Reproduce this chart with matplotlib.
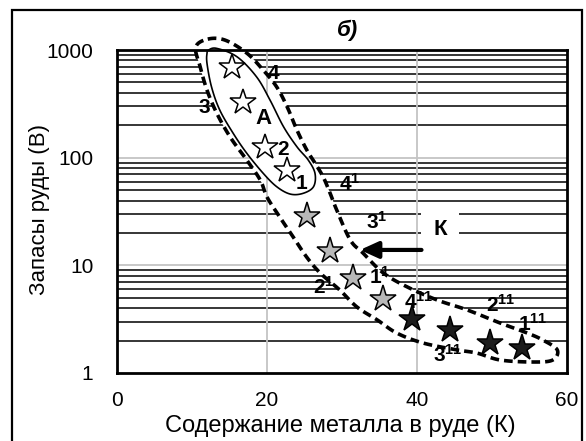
import numpy as np
import matplotlib
matplotlib.use("Agg")
import matplotlib.pyplot as plt
from matplotlib.patches import Rectangle, Polygon

plt.rcParams['font.family'] = ['Liberation Sans', 'DejaVu Sans']
plt.rcParams['mathtext.fontset'] = 'custom'
plt.rcParams['mathtext.rm'] = 'Liberation Sans'
plt.rcParams['mathtext.bf'] = 'Liberation Sans:bold'

# Deposits: metal content K (%) and ore reserves B
k_white = [15.3, 16.8, 19.7, 22.6]
b_white = [700, 330, 126, 77]
k_gray = [25.3, 28.4, 31.5, 35.5]
b_gray = [29, 13.7, 7.6, 4.9]
k_black = [39.3, 44.4, 49.7, 54.0]
b_black = [3.2, 2.5, 1.9, 1.7]

# Outline of the whole deposit field (dashed contour)
outer_k = [12.1, 14.4, 17.3, 19.5, 21.3, 22.7, 24.0, 25.3, 26.4, 27.5, 28.4, 29.3,
           31.1, 32.8, 35.5, 38.7, 42.7, 46.7, 51.1, 54.7, 56.8, 58.7, 58.1, 55.5,
           51.1, 48.0, 45.3, 40.8, 37.3, 34.7, 32.0, 29.7, 27.1, 25.3, 23.5, 21.7,
           20.0, 19.1, 17.3, 15.1, 13.3, 12.0, 11.1, 10.5]
outer_b = [1262, 1236, 936, 650, 453, 295, 180, 118, 89, 66, 47, 32.6,
           17.2, 13.0, 8.5, 6.3, 4.76, 3.85, 2.91, 2.35, 2.02, 1.64, 1.32, 1.265,
           1.32, 1.53, 1.64, 1.90, 2.35, 3.11, 4.10, 5.90, 8.48, 11.9, 18.3, 28.1,
           43.1, 62, 95, 155, 259, 424, 694, 1064]

# Outline of group A (solid contour)
inner_k = [12.2, 13.3, 16.0, 18.6, 20.4, 22.2, 24.0, 25.5, 26.4, 26.2, 24.8, 23.1,
           21.3, 19.5, 17.3, 15.5, 13.7, 12.6, 12.0, 12.0]
inner_b = [998, 1035, 865, 564, 343, 194, 126, 95, 71.5, 53.7, 46.6, 45.9,
           53.7, 71.5, 110, 168, 277, 455, 751, 930]

x_ticks = [0, 20, 40, 60]
y_ticks = [1, 10, 100, 1000]
y_ticklabels = ['1', '10', '100', '1000']


def smooth_closed(xs, ys, n=12):
    """Closed Catmull-Rom curve through the points (x, log10 y)."""
    p = np.column_stack([xs, np.log10(ys)])
    m = len(p)
    out = []
    t = np.linspace(0, 1, n, endpoint=False)[:, None]
    for i in range(m):
        p0, p1, p2, p3 = p[(i - 1) % m], p[i], p[(i + 1) % m], p[(i + 2) % m]
        seg = 0.5 * ((2 * p1) + (-p0 + p2) * t + (2 * p0 - 5 * p1 + 4 * p2 - p3) * t ** 2
                     + (-p0 + 3 * p1 - 3 * p2 + p3) * t ** 3)
        out.append(seg)
    out = np.vstack(out)
    return np.column_stack([out[:, 0], 10 ** out[:, 1]])


fig = plt.figure(figsize=(5.86, 4.41), dpi=100)
ax = fig.add_axes([117 / 586, 68 / 441, 450 / 586, 323 / 441])
ax.set_yscale('log')
ax.set_xlim(0, 60)
ax.set_ylim(1, 1000)

# black minor lines inside each decade
for dec in [1, 10, 100]:
    for m in range(2, 10):
        ax.axhline(dec * m, color='black', lw=1.1, zorder=1)

outer = smooth_closed(outer_k, outer_b)
inner = smooth_closed(inner_k, inner_b)
ax.add_patch(Polygon(outer, closed=True, fc='white', ec='none', zorder=2, clip_on=False))

# light major grid
for v in [20, 40]:
    ax.axvline(v, color='#c4c4c4', lw=1.3, zorder=3)
for v in [10, 100]:
    ax.axhline(v, color='#c4c4c4', lw=1.3, zorder=3)

ax.add_patch(Polygon(outer, closed=True, fill=False, ec='black', lw=2.6,
                     linestyle=(0, (2.4, 1.4)), zorder=4, clip_on=False))
ax.add_patch(Polygon(inner, closed=True, fc='white', ec='black', lw=1.2, zorder=4,
                     clip_on=False))

ax.plot(k_white, b_white, ls='none', marker='*', ms=19, mfc='white', mec='black',
        mew=1.1, zorder=5, clip_on=False)
ax.plot(k_gray, b_gray, ls='none', marker='*', ms=20, mfc='#b8b8b8', mec='black',
        mew=1.1, zorder=5)
ax.plot(k_black, b_black, ls='none', marker='*', ms=20, mfc='#1c1c1c', mec='black',
        mew=1.1, zorder=5)

lbl = dict(fontsize=15, fontweight='bold', ha='center', va='center', zorder=6)
ax.text(20.8, 607, '4', **lbl)
ax.text(11.6, 293, '3', **lbl)
ax.text(19.5, 232, 'А', fontsize=16, fontweight='bold', ha='center', va='center', zorder=6)
ax.text(22.2, 119, '2', **lbl)
ax.text(24.6, 57.7, '1', **lbl)
ax.text(31.0, 57.7, r'$\mathbf{4^{1}}$', **lbl)
ax.text(34.6, 25.4, r'$\mathbf{3^{1}}$', **lbl)
ax.text(27.6, 6.33, r'$\mathbf{2^{1}}$', **lbl)
ax.text(35.0, 7.84, r'$\mathbf{1^{1}}$', **lbl)
ax.text(40.2, 4.59, r'$\mathbf{4^{11}}$', **lbl)
ax.text(51.2, 4.28, r'$\mathbf{2^{11}}$', **lbl)
ax.text(55.4, 2.89, r'$\mathbf{1^{11}}$', **lbl)
ax.text(44.1, 1.47, r'$\mathbf{3^{11}}$', **lbl)
ax.text(43.1, 21.3, 'К', fontsize=16, fontweight='bold', ha='center', va='center',
        zorder=6, bbox=dict(boxstyle='square,pad=0.55', fc='white', ec='none'))
ax.annotate('', xy=(32.4, 13.9), xytext=(40.6, 13.9),
            arrowprops=dict(arrowstyle='-|>,head_length=1.1,head_width=0.5',
                            lw=3, color='black', shrinkA=0, shrinkB=0),
            zorder=6)

for s in ax.spines.values():
    s.set_linewidth(2)
    s.set_zorder(7)

ax.set_xticks(x_ticks)
ax.set_yticks(y_ticks)
ax.set_yticklabels(y_ticklabels)
ax.yaxis.set_minor_locator(matplotlib.ticker.NullLocator())
ax.tick_params(axis='both', length=0, labelsize=15)
ax.tick_params(axis='x', pad=13)
ax.tick_params(axis='y', pad=17)

ax.set_xlabel('Содержание металла в руде (К)', fontsize=17)
ax.xaxis.set_label_coords(0.496, -0.131)
ax.set_ylabel('Запасы руды (В)', fontsize=16)
ax.yaxis.set_label_coords(-0.150, 0.505)

fig.text(348 / 586, 1 - 30 / 441, 'б)', fontsize=16, fontweight='bold',
         fontstyle='italic', ha='center', va='center')

fig.add_artist(Rectangle((12 / 586, -0.05), 570 / 586, 1.05 - 10 / 441,
                         transform=fig.transFigure, fill=False, ec='black', lw=1.6))

fig.savefig('out.png', dpi=100)
